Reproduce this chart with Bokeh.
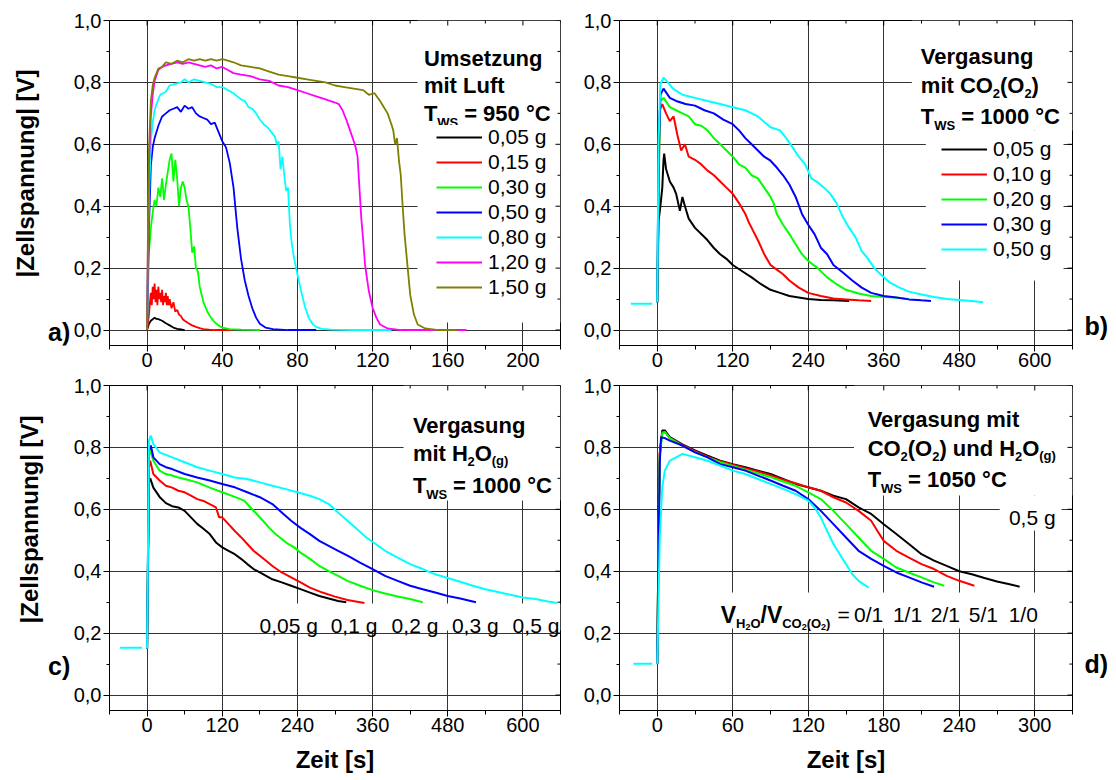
import math
from bokeh.plotting import figure
from bokeh.layouts import row, column
from bokeh.models import (Range1d, FixedTicker, CustomJSTickFormatter,
                          Label, BoxAnnotation, Legend, LegendItem)
from bokeh.embed import file_html
from bokeh.resources import INLINE

FONT = "Liberation Sans"

# ======================= DATA =======================
# ---- panel a: Umsetzung mit Luft, T_ws = 950 °C (time s, |cell voltage| V)
a_labels = ["0,05 g", "0,15 g", "0,30 g", "0,50 g", "0,80 g", "1,20 g", "1,50 g"]
a_t_005 = [0, 1, 2, 3, 4, 5, 6, 8, 10, 12, 14, 16, 18, 20]
a_u_005 = [0.0, 0.02, 0.03, 0.035, 0.04, 0.036, 0.035, 0.03, 0.022, 0.015, 0.008, 0.004, 0.002, 0.0]
a_t_015 = [0, 1, 2, 2.5, 3, 3.5, 4, 4.5, 5, 5.5, 6, 6.5, 7, 7.5, 8, 8.5, 9, 9.5, 10, 10.5,
           11, 11.5, 12, 13, 14, 15, 16, 17, 18, 19, 20, 22, 24, 26, 28, 30, 33, 36, 40, 45]
a_u_015 = [0, 0.05, 0.12, 0.08, 0.14, 0.10, 0.15, 0.09, 0.13, 0.08, 0.14, 0.10, 0.12, 0.09, 0.13, 0.08,
           0.11, 0.09, 0.12, 0.08, 0.11, 0.08, 0.10, 0.07, 0.09, 0.06, 0.065, 0.05, 0.045, 0.035,
           0.03, 0.022, 0.015, 0.01, 0.006, 0.003, 0.001, 0.0, 0.0, 0.0]
a_t_030 = [0, 1, 2, 3, 4, 5, 6, 7, 8, 9, 10, 11, 12, 13, 14, 15, 16, 17, 18, 19, 20, 21, 22, 23,
           24, 25, 26, 27, 28, 30, 32, 34, 36, 38, 40, 44, 50, 60]
a_u_030 = [0, 0.25, 0.33, 0.38, 0.42, 0.40, 0.46, 0.43, 0.49, 0.42, 0.47, 0.51, 0.55, 0.57, 0.48,
           0.55, 0.49, 0.40, 0.46, 0.48, 0.46, 0.42, 0.40, 0.33, 0.25, 0.27, 0.20, 0.19, 0.14, 0.09,
           0.06, 0.04, 0.025, 0.015, 0.008, 0.003, 0.001, 0.0]
a_t_050 = [0, 0.5, 1, 2, 3, 4, 5, 6, 8, 10, 12, 14, 16, 18, 20, 22, 24, 26, 28, 30, 32, 34, 36, 38,
           40, 42, 44, 46, 48, 50, 52, 54, 56, 58, 60, 63, 67, 75, 90]
a_u_050 = [0, 0.2, 0.33, 0.53, 0.59, 0.62, 0.64, 0.66, 0.69, 0.70, 0.71, 0.715, 0.72, 0.705, 0.725,
           0.715, 0.72, 0.70, 0.69, 0.685, 0.68, 0.665, 0.67, 0.64, 0.61, 0.59, 0.54, 0.46, 0.33,
           0.23, 0.16, 0.11, 0.07, 0.04, 0.02, 0.008, 0.003, 0.0, 0.0]
a_t_080 = [0, 0.5, 1, 2, 3, 4, 5, 7, 10, 12, 15, 18, 20, 22, 25, 28, 31, 34, 37, 40, 43, 46, 48, 50,
           52, 54, 56, 58, 60, 62, 64, 66, 68, 69, 70, 71, 72, 73, 74, 75, 76, 77, 78, 80, 82, 84, 86,
           88, 90, 93, 98, 110, 130]
a_u_080 = [0, 0.25, 0.42, 0.61, 0.67, 0.71, 0.73, 0.76, 0.77, 0.79, 0.795, 0.80, 0.81, 0.80, 0.81,
           0.805, 0.80, 0.795, 0.785, 0.785, 0.775, 0.765, 0.755, 0.745, 0.74, 0.72, 0.715, 0.70,
           0.68, 0.665, 0.655, 0.64, 0.625, 0.60, 0.61, 0.52, 0.56, 0.50, 0.45, 0.46, 0.34, 0.28,
           0.24, 0.18, 0.125, 0.075, 0.04, 0.02, 0.01, 0.004, 0.001, 0.0, 0.0]
a_t_120 = [0, 0.5, 1, 2, 3, 4, 6, 8, 10, 13, 16, 19, 22, 25, 28, 31, 34, 37, 40, 43, 46, 50, 55, 60,
           65, 70, 75, 80, 85, 90, 95, 100, 102, 104, 106, 108, 110, 111, 112, 113, 114, 115, 116,
           118, 120, 122, 124, 128, 135, 170]
a_u_120 = [0, 0.3, 0.53, 0.69, 0.76, 0.805, 0.84, 0.85, 0.855, 0.86, 0.865, 0.86, 0.865, 0.86, 0.855,
           0.85, 0.855, 0.845, 0.85, 0.84, 0.83, 0.825, 0.82, 0.81, 0.805, 0.79, 0.785, 0.775, 0.765,
           0.755, 0.745, 0.735, 0.73, 0.71, 0.68, 0.645, 0.61, 0.59, 0.56, 0.46, 0.36, 0.29, 0.21,
           0.126, 0.072, 0.04, 0.018, 0.005, 0.0, 0.0]
a_t_150 = [0, 0.5, 1, 2, 3, 4, 6, 8, 10, 13, 16, 19, 22, 25, 28, 31, 34, 37, 40, 43, 46, 50, 55, 60,
           65, 70, 75, 80, 85, 90, 95, 100, 105, 110, 115, 118, 121, 124, 126, 128, 130, 131, 132,
           133, 134, 135, 136, 137, 138, 139, 140, 142, 144, 148, 155, 165]
a_u_150 = [0, 0.35, 0.58, 0.74, 0.79, 0.815, 0.845, 0.85, 0.865, 0.86, 0.87, 0.865, 0.875, 0.87,
           0.875, 0.87, 0.875, 0.87, 0.875, 0.87, 0.865, 0.855, 0.85, 0.845, 0.835, 0.825, 0.82,
           0.815, 0.81, 0.805, 0.80, 0.79, 0.785, 0.78, 0.775, 0.76, 0.765, 0.74, 0.72, 0.70, 0.665,
           0.645, 0.60, 0.62, 0.55, 0.50, 0.40, 0.31, 0.245, 0.18, 0.115, 0.05, 0.018, 0.005, 0.0, 0.0]

# ---- panel b: Vergasung mit CO2(O2), T_ws = 1000 °C
b_labels = ["0,05 g", "0,10 g", "0,20 g", "0,30 g", "0,50 g"]
b_base_t = [-42, -8]
b_base_u = [0.085, 0.085]
b_t_005 = [0, 2, 5, 8, 10, 11, 14, 20, 26, 30, 36, 40, 44, 50, 60, 70, 80, 90, 100, 110, 120, 135,
           150, 165, 180, 195, 210, 225, 240, 260, 280, 305]
b_u_005 = [0.09, 0.35, 0.40, 0.46, 0.55, 0.57, 0.52, 0.48, 0.46, 0.44, 0.385, 0.43, 0.40, 0.36, 0.33,
           0.31, 0.29, 0.265, 0.245, 0.23, 0.21, 0.19, 0.17, 0.148, 0.13, 0.12, 0.11, 0.105, 0.10,
           0.097, 0.096, 0.094]
b_t_010 = [0, 2, 4, 8, 14, 20, 26, 32, 38, 44, 50, 60, 70, 80, 90, 100, 110, 120, 130, 140, 145,
           150, 160, 170, 180, 190, 200, 210, 225, 240, 260, 280, 300, 320, 340]
b_u_010 = [0.09, 0.40, 0.71, 0.73, 0.70, 0.675, 0.69, 0.63, 0.58, 0.60, 0.56, 0.55, 0.535, 0.515,
           0.50, 0.48, 0.46, 0.44, 0.41, 0.375, 0.35, 0.33, 0.29, 0.245, 0.21, 0.195, 0.18, 0.16,
           0.137, 0.12, 0.11, 0.102, 0.099, 0.096, 0.094]
b_t_020 = [0, 2, 5, 10, 20, 30, 40, 50, 60, 70, 80, 90, 100, 110, 120, 130, 140, 150, 160, 170,
           180, 185, 190, 200, 210, 220, 230, 240, 255, 270, 285, 300, 320, 340, 360, 380, 400]
b_u_020 = [0.09, 0.50, 0.74, 0.75, 0.72, 0.71, 0.70, 0.69, 0.665, 0.66, 0.645, 0.62, 0.60, 0.58,
           0.56, 0.535, 0.525, 0.50, 0.49, 0.46, 0.43, 0.41, 0.375, 0.34, 0.31, 0.277, 0.245, 0.223,
           0.20, 0.17, 0.148, 0.13, 0.118, 0.11, 0.107, 0.105, 0.10]
b_t_030 = [0, 2, 5, 10, 20, 30, 45, 60, 75, 90, 105, 120, 130, 140, 150, 160, 170, 180, 190, 200,
           210, 220, 230, 240, 250, 260, 270, 280, 295, 310, 325, 340, 360, 380, 400, 420, 435]
b_u_030 = [0.09, 0.55, 0.76, 0.78, 0.75, 0.74, 0.73, 0.725, 0.71, 0.70, 0.68, 0.665, 0.645, 0.62,
           0.60, 0.58, 0.56, 0.547, 0.525, 0.50, 0.47, 0.43, 0.375, 0.34, 0.31, 0.266, 0.245, 0.21,
           0.186, 0.16, 0.137, 0.12, 0.11, 0.105, 0.099, 0.096, 0.094]
b_t_050 = [0, 2, 5, 10, 15, 25, 40, 60, 80, 100, 120, 140, 160, 180, 195, 205, 215, 225, 235, 245,
           255, 265, 275, 285, 295, 305, 315, 325, 335, 345, 355, 370, 385, 400, 420, 440, 460, 480,
           500, 518]
b_u_050 = [0.09, 0.60, 0.795, 0.815, 0.805, 0.78, 0.76, 0.75, 0.74, 0.73, 0.72, 0.71, 0.69, 0.655,
           0.645, 0.62, 0.59, 0.56, 0.535, 0.49, 0.477, 0.46, 0.44, 0.41, 0.365, 0.33, 0.30, 0.255,
           0.23, 0.20, 0.18, 0.153, 0.137, 0.124, 0.115, 0.107, 0.10, 0.097, 0.094, 0.09]

# ---- panel c: Vergasung mit H2O(g), T_ws = 1000 °C
c_labels = ["0,05 g", "0,1 g", "0,2 g", "0,3 g", "0,5 g"]
c_base_t = [-43, -8]
c_base_u = [0.153, 0.153]
c_t_005 = [0, 3, 5, 10, 20, 30, 40, 50, 60, 70, 80, 90, 100, 110, 120, 130, 140, 150, 160, 170,
           180, 190, 200, 215, 230, 245, 260, 275, 290, 305, 318]
c_u_005 = [0.15, 0.69, 0.70, 0.67, 0.64, 0.62, 0.61, 0.606, 0.595, 0.574, 0.553, 0.537, 0.52, 0.493,
           0.477, 0.466, 0.455, 0.44, 0.423, 0.407, 0.396, 0.385, 0.374, 0.364, 0.353, 0.342, 0.331,
           0.32, 0.312, 0.304, 0.30]
c_t_01 = [0, 3, 5, 10, 20, 30, 40, 50, 60, 70, 80, 90, 100, 110, 115, 120, 130, 140, 150, 160, 170,
          180, 190, 200, 215, 230, 245, 260, 280, 300, 320, 340, 347]
c_u_01 = [0.15, 0.735, 0.757, 0.714, 0.693, 0.676, 0.67, 0.66, 0.655, 0.644, 0.633, 0.627, 0.617,
          0.606, 0.574, 0.574, 0.552, 0.53, 0.51, 0.488, 0.466, 0.45, 0.434, 0.417, 0.396, 0.38,
          0.364, 0.347, 0.331, 0.318, 0.307, 0.30, 0.297]
c_t_02 = [0, 3, 5, 10, 20, 30, 40, 50, 60, 80, 100, 120, 140, 155, 165, 175, 185, 195, 205, 215,
          225, 235, 245, 260, 275, 290, 305, 320, 340, 360, 380, 400, 420, 440]
c_u_02 = [0.15, 0.78, 0.79, 0.757, 0.725, 0.714, 0.709, 0.703, 0.698, 0.687, 0.67, 0.655, 0.64,
          0.628, 0.606, 0.585, 0.563, 0.54, 0.52, 0.504, 0.488, 0.477, 0.46, 0.44, 0.417, 0.40,
          0.385, 0.369, 0.353, 0.339, 0.328, 0.318, 0.31, 0.30]
c_t_03 = [0, 3, 6, 10, 20, 30, 40, 60, 80, 100, 120, 140, 160, 180, 200, 215, 230, 245, 260, 275,
          290, 305, 320, 340, 360, 380, 400, 420, 440, 460, 480, 500, 525]
c_u_03 = [0.15, 0.79, 0.806, 0.768, 0.746, 0.736, 0.73, 0.714, 0.703, 0.693, 0.682, 0.671, 0.655,
          0.639, 0.617, 0.59, 0.563, 0.54, 0.52, 0.498, 0.482, 0.466, 0.45, 0.428, 0.407, 0.385,
          0.369, 0.353, 0.342, 0.331, 0.32, 0.312, 0.30]
c_t_05 = [0, 3, 6, 10, 20, 40, 60, 80, 100, 120, 140, 160, 180, 200, 220, 240, 260, 275, 290, 305,
          320, 335, 350, 365, 380, 400, 420, 440, 460, 480, 500, 520, 540, 560, 580, 600, 620, 640, 655]
c_u_05 = [0.15, 0.822, 0.838, 0.811, 0.784, 0.768, 0.752, 0.736, 0.725, 0.714, 0.703, 0.698, 0.687,
          0.676, 0.666, 0.655, 0.644, 0.633, 0.617, 0.59, 0.563, 0.536, 0.509, 0.488, 0.466, 0.444,
          0.423, 0.407, 0.39, 0.378, 0.366, 0.353, 0.342, 0.333, 0.324, 0.315, 0.31, 0.302, 0.297]

# ---- panel d: Vergasung mit CO2(O2) und H2O(g), T_ws = 1050 °C, 0,5 g
d_ratio_labels = ["0/1", "1/1", "2/1", "5/1", "1/0"]
d_base_t = [-19, -4]
d_base_u = [0.101, 0.101]
d_t_10 = [0, 1, 2, 4, 6, 10, 20, 30, 40, 50, 60, 70, 80, 90, 100, 110, 120, 130, 140, 150, 160, 170,
          180, 190, 200, 210, 220, 230, 240, 250, 260, 270, 280, 288]
d_u_10 = [0.1, 0.51, 0.78, 0.855, 0.855, 0.833, 0.81, 0.79, 0.773, 0.757, 0.746, 0.736, 0.725, 0.714,
          0.698, 0.682, 0.671, 0.66, 0.644, 0.633, 0.606, 0.585, 0.552, 0.52, 0.488, 0.455, 0.434,
          0.417, 0.40, 0.39, 0.378, 0.367, 0.358, 0.35]
d_t_51 = [0, 1, 2, 4, 6, 10, 20, 30, 40, 50, 60, 70, 80, 90, 100, 110, 120, 130, 140, 150, 160, 170,
          175, 180, 190, 200, 210, 220, 230, 240, 252]
d_u_51 = [0.1, 0.5, 0.78, 0.85, 0.85, 0.83, 0.808, 0.788, 0.77, 0.755, 0.744, 0.733, 0.722, 0.71,
          0.696, 0.684, 0.671, 0.66, 0.639, 0.622, 0.595, 0.563, 0.53, 0.498, 0.466, 0.444, 0.423,
          0.407, 0.385, 0.369, 0.353]
d_t_21 = [0, 1, 2, 4, 6, 10, 20, 30, 40, 50, 60, 70, 80, 90, 100, 110, 120, 130, 140, 150, 160, 170,
          180, 190, 200, 210, 220, 228]
d_u_21 = [0.1, 0.5, 0.77, 0.845, 0.85, 0.83, 0.805, 0.785, 0.768, 0.752, 0.74, 0.728, 0.716, 0.704,
          0.69, 0.676, 0.655, 0.633, 0.595, 0.552, 0.509, 0.466, 0.44, 0.412, 0.396, 0.38, 0.364, 0.353]
d_t_11 = [0, 1, 2, 3, 6, 10, 20, 30, 40, 50, 60, 70, 80, 90, 100, 110, 120, 130, 140, 150, 160, 170,
          180, 190, 200, 210, 220]
d_u_11 = [0.1, 0.45, 0.75, 0.833, 0.83, 0.822, 0.806, 0.784, 0.768, 0.746, 0.736, 0.725, 0.709,
          0.693, 0.676, 0.66, 0.633, 0.595, 0.552, 0.509, 0.466, 0.44, 0.417, 0.396, 0.38, 0.364, 0.35]
d_t_01 = [0, 2, 4, 6, 10, 15, 20, 30, 40, 50, 60, 70, 80, 90, 100, 110, 120, 125, 130, 135, 140,
          145, 150, 155, 160, 165, 168]
d_u_01 = [0.1, 0.51, 0.671, 0.725, 0.757, 0.768, 0.779, 0.768, 0.757, 0.741, 0.725, 0.714, 0.698,
          0.682, 0.666, 0.649, 0.628, 0.606, 0.574, 0.53, 0.488, 0.455, 0.423, 0.39, 0.369, 0.355, 0.347]

# axis ticks
a_xticks = [0, 40, 80, 120, 160, 200]
a_xminor = [-20, 20, 60, 100, 140, 180, 220]
bc_xticks = [0, 120, 240, 360, 480, 600]
bc_xminor = [-60, 60, 180, 300, 420, 540, 660]
d_xticks = [0, 60, 120, 180, 240, 300]
d_xminor = [-30, 30, 90, 150, 210, 270, 330]
y_ticks = [0.0, 0.2, 0.4, 0.6, 0.8, 1.0]
y_minor = [0.1, 0.3, 0.5, 0.7, 0.9]

# ======================= STYLE / GEOMETRY =======================
C_BLACK, C_RED, C_GREEN, C_BLUE, C_CYAN, C_MAG, C_OLIVE = (
    "#000000", "#ff0000", "#00ff00", "#0000ff", "#00ffff", "#ff00ff", "#808000")
FW, FH = 454, 325
YR = (-0.05, 1.0)
GRID = "#333333"
TOP_H, BOT_H = 376, 404          # row heights (page has no margin)
GL, GR = 70, 36                  # left / right gutter widths

BOLD_W = {" ": 278, "(": 333, ")": 333, "/": 278, "=": 584, "°": 400, "C": 722, "H": 722, "L": 611,
          "O": 778, "S": 667, "T": 611, "U": 722, "V": 667, "W": 944, "a": 556, "d": 611, "e": 556,
          "f": 333, "g": 611, "i": 278, "m": 889, "n": 611, "r": 389, "s": 556, "t": 333, "u": 611,
          "z": 500, "l": 278, "p": 611}
REG_W = {" ": 278, ",": 278, "/": 278, "=": 584, "g": 556}


def tw(s, size, bold):
    tab = BOLD_W if bold else REG_W
    return sum(tab.get(ch, 556) for ch in s) * size / 1000.0


def label(p, x, y, text, size, bold, align="left", baseline="alphabetic", angle=0.0):
    p.add_layout(Label(x=x, y=y, text=text, text_font=FONT, text_font_size=f"{size}px",
                       text_font_style="bold" if bold else "normal", text_color="black",
                       text_align=align, text_baseline=baseline, angle=angle))


def make_gutter(w, h, page_x, page_y):
    g = figure(width=w, height=h, x_range=Range1d(page_x, page_x + w),
               y_range=Range1d(page_y + h, page_y), output_backend="svg", toolbar_location=None,
               x_axis_type=None, y_axis_type=None, min_border=0)
    if g.title is not None:
        g.title.visible = False
    g.outline_line_color = None
    return g


def make_panel(pw, ph, page_x, page_y, frame_x, frame_y, xr, xticks, xminor, xlabel=None):
    bl = frame_x - page_x
    bt = frame_y - page_y
    p = figure(width=pw, height=ph, x_range=Range1d(*xr), y_range=Range1d(*YR),
               output_backend="svg", toolbar_location=None,
               min_border_left=bl, min_border_right=pw - bl - FW,
               min_border_top=bt, min_border_bottom=ph - bt - FH)
    if p.title is not None:
        p.title.visible = False
    p.outline_line_color = "black"
    p.outline_line_width = 1
    xt = FixedTicker(ticks=xticks, minor_ticks=xminor)
    yt = FixedTicker(ticks=y_ticks, minor_ticks=y_minor)
    p.xaxis.ticker = xt
    p.yaxis.ticker = yt
    p.xgrid.ticker = xt
    p.ygrid.ticker = yt
    p.grid.grid_line_color = GRID
    p.grid.grid_line_width = 1
    p.yaxis.formatter = CustomJSTickFormatter(code="return tick.toFixed(1).replace('.', ',');")
    for ax in (p.xaxis[0], p.yaxis[0]):
        ax.axis_line_color = "black"
        ax.major_tick_line_color = "black"
        ax.minor_tick_line_color = "black"
        ax.major_label_text_font = FONT
        ax.major_label_text_font_size = "20px"
        ax.major_label_text_color = "black"
        ax.major_tick_in = 0
        ax.minor_tick_in = 0
        ax.major_tick_out = 6
    p.xaxis.minor_tick_out = 4
    p.xaxis.major_label_standoff = 1
    p.yaxis.minor_tick_out = 3
    p.yaxis.major_label_standoff = 2
    if xlabel:
        p.xaxis.axis_label = xlabel
        p.xaxis.axis_label_text_font = FONT
        p.xaxis.axis_label_text_font_size = "24px"
        p.xaxis.axis_label_text_font_style = "bold"
        p.xaxis.axis_label_text_color = "black"
        p.xaxis.axis_label_standoff = 11
    # inward ticks on the top and right edges of the frame
    for vals, ln in ((xticks, 5), (xminor, 3)):
        p.ray(x=vals, y=[YR[1]] * len(vals), length=ln, length_units="screen",
              angle=-math.pi / 2, line_color="black", line_width=1)
    for vals, ln in ((y_ticks, 5), (y_minor, 3)):
        p.ray(x=[xr[1]] * len(vals), y=vals, length=ln, length_units="screen",
              angle=math.pi, line_color="black", line_width=1)
    geo = dict(fx=frame_x, fy=frame_y, xr=xr)
    return p, geo


def to_data(geo, px, py):
    x0, x1 = geo["xr"]
    x = x0 + (px - geo["fx"]) / FW * (x1 - x0)
    y = YR[1] - (py - geo["fy"]) / FH * (YR[1] - YR[0])
    return x, y


def put(p, geo, px, py, text, size, bold, align="left", baseline="alphabetic"):
    x, y = to_data(geo, px, py)
    label(p, x, y, text, size, bold, align, baseline)


def rich(p, geo, px, py, pieces):
    x = px
    for text, size, shift, bold in pieces:
        x += (len(text) - len(text.lstrip(" "))) * tw(" ", size, bold)
        core = text.strip(" ")
        put(p, geo, x, py + shift, core, size, bold)
        x += tw(core, size, bold)
        x += (len(text) - len(text.rstrip(" "))) * tw(" ", size, bold)


def mask(p, geo, l, r, t, b):
    x0, y0 = to_data(geo, l, b)
    x1, y1 = to_data(geo, r, t)
    p.add_layout(BoxAnnotation(left=x0, right=x1, bottom=y0, top=y1, fill_color="white",
                               fill_alpha=1.0, line_alpha=0.0, level="underlay"))


def legend(p, items, loc):
    leg = Legend(items=items, location=loc, glyph_width=46, glyph_height=24, label_height=24,
                 label_standoff=6, spacing=1, padding=0, margin=0, border_line_alpha=0,
                 background_fill_color="white", background_fill_alpha=1.0,
                 label_text_font=FONT, label_text_font_size="21px", label_text_color="black")
    p.add_layout(leg)


LW_A, LW = 1.8, 2.0

# ======================= PANEL a =======================
pa, ga = make_panel(510, TOP_H, GL, 0, 106, 20, (-20, 220), a_xticks, a_xminor)
mask(pa, ga, 416, 560, 20, 322)
a_series = [(a_t_005, a_u_005, C_BLACK), (a_t_015, a_u_015, C_RED), (a_t_030, a_u_030, C_GREEN),
            (a_t_050, a_u_050, C_BLUE), (a_t_080, a_u_080, C_CYAN), (a_t_120, a_u_120, C_MAG),
            (a_t_150, a_u_150, C_OLIVE)]
a_r = [pa.line(t, u, line_color=c, line_width=LW_A) for t, u, c in a_series]
legend(pa, [LegendItem(label=l, renderers=[r]) for l, r in zip(a_labels, a_r)], (327, 46))
rich(pa, ga, 422.5, 58.3, [("Umsetzung", 22, 0, True)])
rich(pa, ga, 422.5, 85, [("mit Luft", 22, 0, True)])
rich(pa, ga, 422.5, 113.3, [("T", 22, 0, True), ("WS", 13, 9, True), (" = 950 °C", 22, 0, True)])

# ======================= PANEL b =======================
pb, gb = make_panel(500, TOP_H, 580, 0, 618, 20, (-60, 660), bc_xticks, bc_xminor)
mask(pb, gb, 911, 1072, 20, 130)
mask(pb, gb, 925, 1063, 130, 280)
pb.line(b_base_t, b_base_u, line_color=C_CYAN, line_width=LW)
b_series = [(b_t_005, b_u_005, C_BLACK), (b_t_010, b_u_010, C_RED), (b_t_020, b_u_020, C_GREEN),
            (b_t_030, b_u_030, C_BLUE), (b_t_050, b_u_050, C_CYAN)]
b_r = [pb.line(t, u, line_color=c, line_width=LW) for t, u, c in b_series]
legend(pb, [LegendItem(label=l, renderers=[r]) for l, r in zip(b_labels, b_r)], (322, 84))
rich(pb, gb, 920, 55.5, [("Vergasung", 22, 0, True)])
rich(pb, gb, 920, 85, [("mit CO", 22, 0, True), ("2", 13, 8, True), ("(O", 22, 0, True),
                       ("2", 13, 8, True), (")", 22, 0, True)])
rich(pb, gb, 920, 115.5, [("T", 22, 0, True), ("WS", 13, 9, True), (" = 1000 °C", 22, 0, True)])

# ======================= PANEL c =======================
pc, gc = make_panel(510, BOT_H, GL, TOP_H, 106, 385, (-60, 660), bc_xticks, bc_xminor,
                    xlabel="Zeit [s]")
mask(pc, gc, 402, 560, 385, 500)
mask(pc, gc, 255, 560, 603, 630)
pc.line(c_base_t, c_base_u, line_color=C_CYAN, line_width=LW)
c_series = [(c_t_005, c_u_005, C_BLACK), (c_t_01, c_u_01, C_RED), (c_t_02, c_u_02, C_GREEN),
            (c_t_03, c_u_03, C_BLUE), (c_t_05, c_u_05, C_CYAN)]
for t, u, c in c_series:
    pc.line(t, u, line_color=c, line_width=LW)
rich(pc, gc, 411.4, 425, [("Vergasung", 22, 0, True)])
rich(pc, gc, 411.4, 453.3, [("mit H", 22, 0, True), ("2", 13, 8, True), ("O", 22, 0, True),
                            ("(g)", 13, 7, True)])
rich(pc, gc, 411.4, 485, [("T", 22, 0, True), ("WS", 13, 9, True), (" = 1000 °C", 22, 0, True)])
for lbl, px in zip(c_labels, [257, 328.6, 390, 450.7, 511.8]):
    put(pc, gc, px, 625, lbl, 21, False)

# ======================= PANEL d =======================
pd_, gd = make_panel(500, BOT_H, 580, TOP_H, 618, 385, (-30, 330), d_xticks, d_xminor,
                     xlabel="Zeit [s]")
mask(pd_, gd, 853, 1072, 385, 495)
mask(pd_, gd, 999, 1061, 495, 530)
mask(pd_, gd, 715, 1045, 592, 628)
pd_.line(d_base_t, d_base_u, line_color=C_CYAN, line_width=LW)
d_series = [(d_t_10, d_u_10, C_BLACK), (d_t_51, d_u_51, C_RED), (d_t_21, d_u_21, C_GREEN),
            (d_t_11, d_u_11, C_BLUE), (d_t_01, d_u_01, C_CYAN)]
for t, u, c in d_series:
    pd_.line(t, u, line_color=c, line_width=LW)
rich(pd_, gd, 866.7, 419.3, [("Vergasung mit", 22, 0, True)])
rich(pd_, gd, 866.7, 448.3, [("CO", 22, 0, True), ("2", 13, 8, True), ("(O", 22, 0, True),
                             ("2", 13, 8, True), (") und H", 22, 0, True), ("2", 13, 8, True),
                             ("O", 22, 0, True), ("(g)", 13, 7, True)])
rich(pd_, gd, 866.7, 479.3, [("T", 22, 0, True), ("WS", 13, 9, True), (" = 1050 °C", 22, 0, True)])
put(pd_, gd, 1008.3, 516.7, "0,5 g", 21, False)
rich(pd_, gd, 719.5, 614, [("V", 23, 0, True), ("H", 13, 9, True), ("2", 9, 12, True),
                           ("O", 13, 9, True), ("/V", 23, 0, True), ("CO", 13, 9, True),
                           ("2", 9, 12, True), ("(O", 13, 9, True), ("2", 9, 12, True),
                           (")", 13, 9, True)])
put(pd_, gd, 836.5, 614, "=", 21, False)
for lbl, px in zip(d_ratio_labels, [853, 892, 930, 968, 1008]):
    put(pd_, gd, px, 614, lbl, 21, False)

# ======================= gutters (texts outside the plot frames) =======================
gl_top = make_gutter(GL, TOP_H, 0, 0)
label(gl_top, 25, 177, "|Zellspannung| [V]", 24, True, align="center", baseline="middle",
      angle=math.pi / 2)
label(gl_top, 47.5, 360, "a)", 25, True)
gr_top = make_gutter(GR, TOP_H, 1080, 0)
label(gr_top, 1084, 353.3, "b)", 25, True)
gl_bot = make_gutter(GL, BOT_H, 0, TOP_H)
label(gl_bot, 28.5, 542.5, "|Zellspannung| [V]", 24, True, align="center", baseline="middle",
      angle=math.pi / 2)
label(gl_bot, 47.5, 725, "c)", 25, True)
gr_bot = make_gutter(GR, BOT_H, 1080, TOP_H)
label(gr_bot, 1084, 721.7, "d)", 25, True)

layout = column(row(gl_top, pa, pb, gr_top), row(gl_bot, pc, pd_, gr_bot))
open("out.html", "w").write(file_html(layout, INLINE))
